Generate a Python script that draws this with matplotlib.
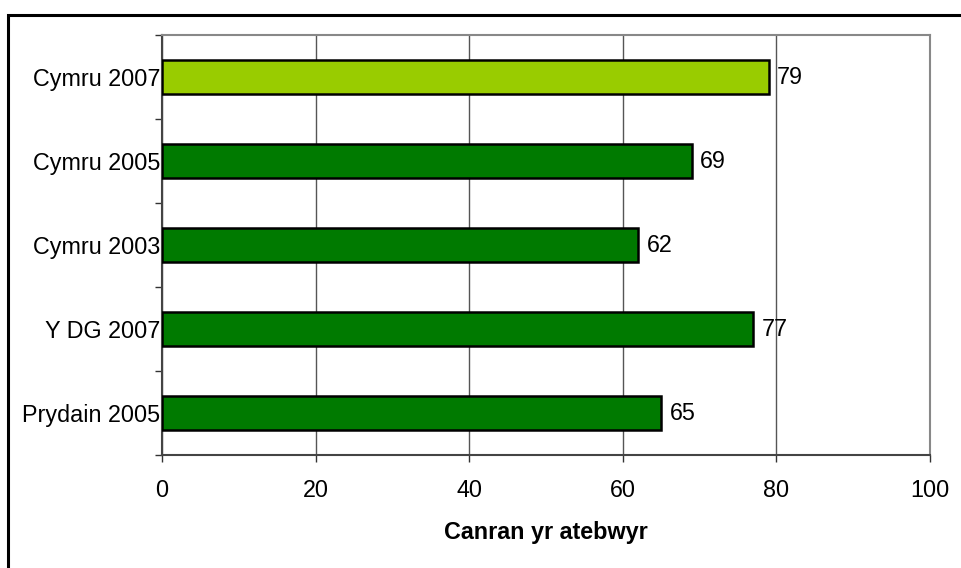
import matplotlib
matplotlib.use("Agg")
import matplotlib.pyplot as plt
from matplotlib.patches import Rectangle

categories = ["Prydain 2005", "Y DG 2007", "Cymru 2003", "Cymru 2005", "Cymru 2007"]
values = [65, 77, 62, 69, 79]
colors = ["#007A00", "#007A00", "#007A00", "#007A00", "#99CC00"]
xticks = [0, 20, 40, 60, 80, 100]
xlabel = "Canran yr atebwyr"

plt.rcParams['font.family'] = ['Liberation Sans', 'DejaVu Sans']
FS = 16.8

W, H = 962, 568
fig = plt.figure(figsize=(W / 100, H / 100), dpi=100)

# outer frame
fig.patches.append(Rectangle((8 / W, -0.05), 1.1, 1 - 15 / H + 0.05, transform=fig.transFigure,
                             fill=False, edgecolor='black', linewidth=2.2, zorder=0))

left, right, top, bottom = 162, 930, 35, 455
ax = fig.add_axes([left / W, 1 - bottom / H, (right - left) / W, (bottom - top) / H])

y = list(range(len(categories)))
ax.barh(y, values, height=0.4, color=colors, edgecolor='black', linewidth=1.8, zorder=3)
for yi, v in zip(y, values):
    ax.annotate(f"{v}", xy=(v, yi), xytext=(6, 0), textcoords='offset points',
                va='center', ha='left', fontsize=FS, zorder=4)

ax.set_xlim(0, 100)
ax.set_ylim(-0.5, len(categories) - 0.5)
ax.set_xticks(xticks)
ax.set_xticklabels([str(t) for t in xticks], fontsize=FS)
ax.set_yticks(y)
ax.set_yticklabels(categories, fontsize=FS)
ax.set_yticks([i - 0.5 for i in range(len(categories) + 1)], minor=True)
ax.tick_params(axis='y', which='major', length=0, pad=1)
ax.tick_params(axis='y', which='minor', length=5, width=1, color='#333333', direction='out')
ax.tick_params(axis='x', which='major', length=5, width=1, color='#333333', direction='out', pad=12)
ax.xaxis.grid(True, color='#555555', linewidth=1, zorder=0)
ax.set_axisbelow(True)

for s in ['top', 'right']:
    ax.spines[s].set_color('#888888')
    ax.spines[s].set_linewidth(1.5)
for s in ['left', 'bottom']:
    ax.spines[s].set_color('#444444')
    ax.spines[s].set_linewidth(1.5)

ax.set_xlabel(xlabel, fontsize=FS, fontweight='bold', labelpad=14)

fig.savefig("out.png", dpi=100)
